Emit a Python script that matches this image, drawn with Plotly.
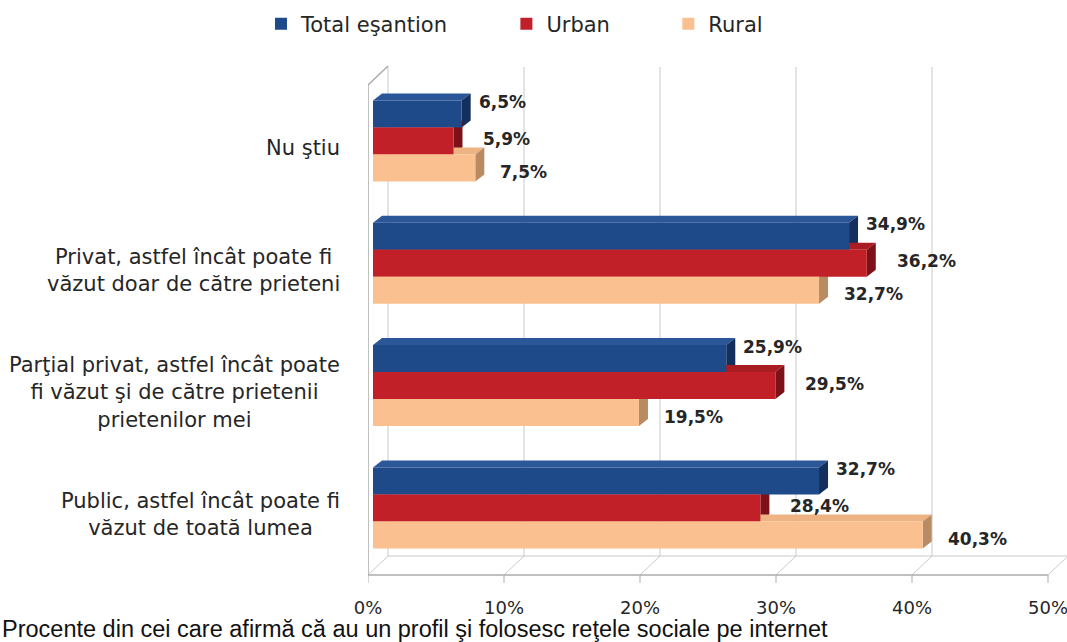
import plotly.graph_objects as go

# date
categorii = [
    "Nu ştiu",
    "Privat, astfel încât poate fi<br>văzut doar de către prieteni",
    "Parţial privat, astfel încât poate<br>fi văzut şi de către prietenii<br>prietenilor mei",
    "Public, astfel încât poate fi<br>văzut de toată lumea",
]
serii = ["Total eşantion", "Urban", "Rural"]
total = [6.5, 34.9, 25.9, 32.7]
urban = [5.9, 36.2, 29.5, 28.4]
rural = [7.5, 32.7, 19.5, 40.3]
tick_vals = [0, 10, 20, 30, 40, 50]
tick_text = ["0%", "10%", "20%", "30%", "40%", "50%"]
titlu_x = "Procente din cei care afirmă că au un profil şi folosesc reţele sociale pe internet"

valori = [total, urban, rural]
culori = ["#1F4A8A", "#C22028", "#FAC08F"]
culori_lat = ["#132F5E", "#7E1117", "#B98B63"]
culori_sus = ["#2B5799", "#A81C22", "#EDB382"]

W, H = 1067, 642
L, R, T, B = 368, 0, 60, 59
plot_w = W - L - R
plot_h = H - T - B
px_bar = 13.64        # pixeli pe 1% (bare)
px_pod = 13.6         # pixeli pe 1% (podea, axa)
bar0 = 373            # unde incep barele
px_y = 122.3          # pixeli pe categorie
y0_px = 141           # centrul primei categorii


def py(p):
    # pixel vertical -> valoare pe axa y
    return (p - y0_px) / px_y


bargap = 0.338
w = (1 - bargap) / 3
dx, dy = 9 / px_bar, 7 / px_y        # adancime bare
gx, gy = 20 / px_pod, 19 / px_y      # adancime pereti

ypos = list(range(len(categorii)))

fig = go.Figure()
for i, (nume, vals) in enumerate(zip(serii, valori)):
    pad = "\u00a0" * 8 if i < len(serii) - 1 else ""
    fig.add_trace(go.Bar(
        y=ypos, x=vals, name=nume + pad, orientation="h",
        marker=dict(color=culori[i], line=dict(width=0)),
        hovertemplate=nume + ": %{x}%<extra></extra>",
    ))
# urma invizibila pentru axa podelei
fig.add_trace(go.Scatter(x=tick_vals, y=[py(575)] * len(tick_vals), xaxis="x2",
                         mode="markers", marker=dict(opacity=0),
                         showlegend=False, hoverinfo="skip"))

shapes = []
floor_f = py(575)
floor_b = floor_f - gy
wall_top = py(67)
left_top = py(85)
grid_col = "#C9C9C9"
axis_col = "#ABABAB"


def linie(x0, y0, x1, y1, col, lw=1):
    return dict(type="line", xref="x2", yref="y", layer="below",
                x0=x0, x1=x1, y0=y0, y1=y1, line=dict(color=col, width=lw))


# pereti si podea
for t in tick_vals:
    shapes.append(linie(t + gx, floor_b, t + gx, wall_top, grid_col))
    shapes.append(linie(t, floor_f, t + gx, floor_b, grid_col))
    shapes.append(linie(t, floor_f, t, py(583), axis_col))
shapes.append(linie(0, floor_f, tick_vals[-1], floor_f, axis_col, 1.5))
shapes.append(linie(gx, floor_b, tick_vals[-1] + gx, floor_b, grid_col))
shapes.append(linie(0, floor_f, 0, left_top, axis_col, 1.5))
shapes.append(linie(0, left_top, gx, left_top - gy, axis_col, 1.5))

# fete 3D ale barelor
for i, vals in enumerate(valori):
    for k, v in enumerate(vals):
        yc = k + (i - 1) * w
        yt, yb = yc - w / 2, yc + w / 2
        shapes.append(dict(
            type="path", xref="x", yref="y", layer="below",
            path=f"M0,{yt} L{dx},{yt - dy} L{v + dx},{yt - dy} L{v},{yt} Z",
            fillcolor=culori_sus[i], line=dict(width=0)))
        shapes.append(dict(
            type="path", xref="x", yref="y", layer="below",
            path=f"M{v},{yt} L{v + dx},{yt - dy} L{v + dx},{yb - dy} L{v},{yb} Z",
            fillcolor=culori_lat[i], line=dict(width=0)))

annotations = []
# etichete valori
x_shift = [15, 28, 23]
y_shift = [12, 2, -4]
for i, vals in enumerate(valori):
    for k, v in enumerate(vals):
        annotations.append(dict(
            x=v, y=k + (i - 1) * w, xref="x", yref="y",
            text="<b>" + f"{v:.1f}".replace(".", ",") + "%</b>",
            showarrow=False, xanchor="left", yanchor="middle",
            xshift=x_shift[i], yshift=y_shift[i],
            font=dict(family="DejaVu Sans", size=17, color="#262626")))

# etichete categorii
for k, c in enumerate(categorii):
    annotations.append(dict(
        x=0, y=k, xref="x", yref="y", text=c, showarrow=False,
        xanchor="right", yanchor="middle", align="center",
        xshift=-31, yshift=-7,
        font=dict(family="DejaVu Sans", size=21, color="#262626")))

annotations.append(dict(
    x=-L / plot_w, y=(H - B - 629) / plot_h, xref="paper", yref="paper",
    text=titlu_x, showarrow=False, xanchor="left", yanchor="middle",
    font=dict(family="Liberation Sans", size=23.5, color="#111111")))

fig.update_layout(
    width=W, height=H,
    margin=dict(l=L, r=R, t=T, b=B, autoexpand=False),
    barmode="group", bargap=bargap, bargroupgap=0,
    plot_bgcolor="white", paper_bgcolor="white",
    xaxis=dict(range=[-(bar0 - L) / px_bar, (W - R - bar0) / px_bar],
               showticklabels=False, showgrid=False, zeroline=False,
               showline=False, ticks=""),
    xaxis2=dict(range=[0, plot_w / px_pod], overlaying="x", side="bottom",
                anchor="y", tickvals=tick_vals, ticktext=tick_text,
                showgrid=False, zeroline=False, showline=False, ticks="",
                ticklabelstandoff=12, ticklabeloverflow="allow",
                tickfont=dict(family="DejaVu Sans", size=18, color="#262626")),
    yaxis=dict(range=[py(583), py(T)], showticklabels=False,
               showgrid=False, zeroline=False, showline=False),
    legend=dict(orientation="h", x=(261 - L) / plot_w, y=1 + (T - 24) / plot_h,
                xanchor="left", yanchor="middle",
                font=dict(family="DejaVu Sans", size=21, color="#262626")),
    shapes=shapes,
    annotations=annotations,
    showlegend=True,
)

fig.write_html("out.html", config={"displayModeBar": False},
               post_script="document.body.style.margin='0';")
